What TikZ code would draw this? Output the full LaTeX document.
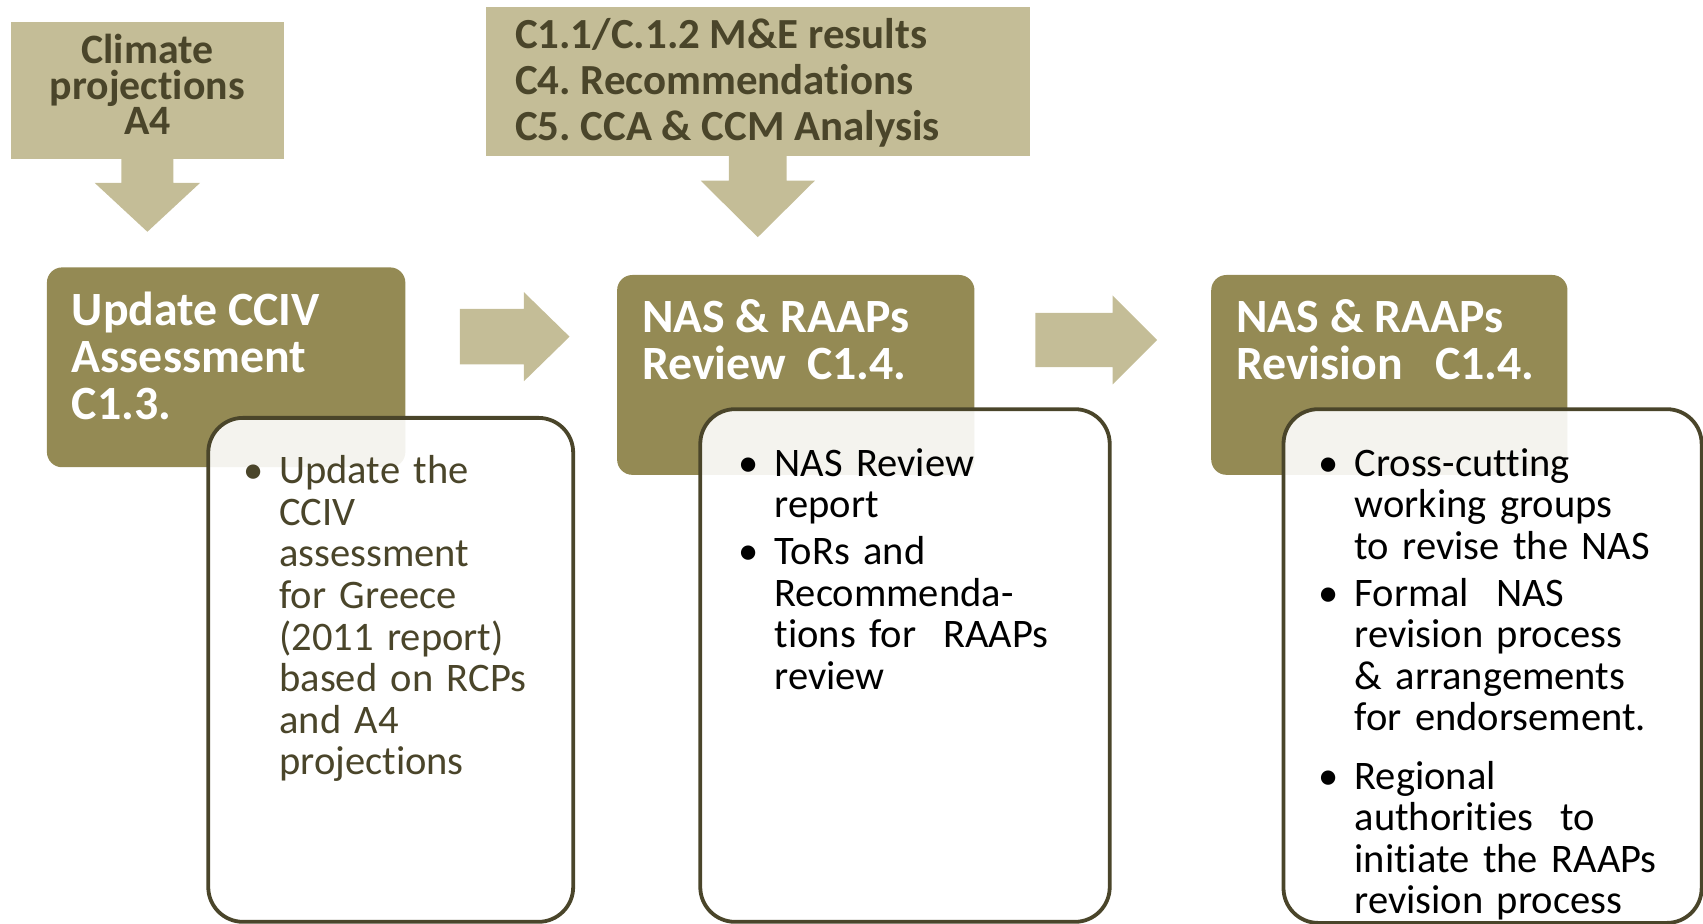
\documentclass[tikz,border=0pt]{standalone}
\usepackage{fontspec}
\setmainfont{Carlito}[Ligatures=NoCommon]
\usetikzlibrary{calc,positioning}
\definecolor{tan}{HTML}{C4BD97}
\definecolor{olive}{HTML}{948A54}
\definecolor{ink}{HTML}{4A452A}
\frenchspacing
% one bullet with hanging lines, optional gap before it
\newcommand{\bitem}[2][0pt]{\par\vspace{#1}\noindent\makebox[33pt][l]{\textbullet}%
  \begin{tabular}[t]{@{}l@{}}#2\end{tabular}\par}
\tikzset{
  srcbox/.style={fill=tan, anchor=north west, inner sep=0pt},
  stage/.style={fill=olive, rounded corners=14pt, anchor=north west, inner sep=0pt},
  card/.style={fill=white, fill opacity=0.9, draw=ink, line width=3.5pt, rounded corners=32pt, anchor=north west, inner sep=0pt},
  blk/.style={fill=tan},
  srctxt/.style={text=ink, font=\bfseries\fontsize{38.5}{32.5}\selectfont, align=center, inner sep=0pt},
  srclist/.style={text=ink, font=\bfseries\fontsize{39.5}{42.5}\selectfont, align=left, anchor=north west, inner sep=0pt},
  stagetxt/.style={text=white, font=\bfseries\fontsize{44}{43}\selectfont, align=left, anchor=north west, inner sep=0pt},
  cardtxt/.style={font=\fontsize{37.3}{38.2}\selectfont, text width=340pt, anchor=north west, inner sep=0pt},
}
\begin{document}
\begin{tikzpicture}[x=1pt,y=-1pt]
  \useasboundingbox (0,0) rectangle (1568,850);
  % inputs on top
  \node[srcbox, minimum width=251pt, minimum height=126pt] (clim) at (10,20) {};
  \node[srctxt] (climt) at ($(clim.center)+(0,-5.5)$) {Climate\\projections\\A4};
  \node[srcbox, minimum width=501pt, minimum height=137pt] (inputs) at (447,6) {};
  \node[srclist] (inputst) at ($(inputs.north west)+(27,10.5)$)
    {C1.1/C.1.2 M\&E results\\C4. Recommendations\\C5. CCA \& CCM Analysis};
  \fill[blk] ($(clim.south)+(-24,0)$) -- ++(0,22) -- ++(-24.5,0) -- ++(48.5,45)
    -- ++(48.5,-45) -- ++(-24.5,0) -- ++(0,-22) -- cycle;
  \fill[blk] ($(inputs.south)+(-26.5,0)$) -- ++(0,23) -- ++(-26,0) -- ++(52.5,52)
    -- ++(52.5,-52) -- ++(-26,0) -- ++(0,-23) -- cycle;
  % three stages
  \node[stage, minimum width=330pt, minimum height=184pt] (upd) at (43,246) {};
  \node[stage, minimum width=329pt, minimum height=184pt] (rev) at (568,253) {};
  \node[stage, minimum width=328pt, minimum height=184pt] (revis) at (1115,253) {};
  \fill[blk] ($(upd.north east)+(50,64)$) ++(0,-25.5) -- ++(59,0) -- ++(0,-15.5)
    -- ++(42,41) -- ++(-42,41) -- ++(0,-15.5) -- ++(-59,0) -- cycle;
  \fill[blk] ($(rev.north east)+(56,60)$) ++(0,-25) -- ++(71,0) -- ++(0,-16)
    -- ++(41,41) -- ++(-41,41) -- ++(0,-16) -- ++(-71,0) -- cycle;
  \node[stagetxt] (updt) at ($(upd.north west)+(23,23)$) {Update CCIV\\Assessment\\C1.3.};
  \node[stagetxt] (revt) at ($(rev.north west)+(23,23)$) {NAS \& RAAPs\\Review\ \ C1.4.};
  \node[stagetxt] (revist) at ($(revis.north west)+(23,23)$) {NAS \& RAAPs\\Revision\ \ \ C1.4.};
  % detail cards
  \node[card, minimum width=336pt, minimum height=464pt] (updc) at (190,383) {};
  \node[card, minimum width=377pt, minimum height=472pt] (revc) at (643,375) {};
  \node[card, minimum width=385pt, minimum height=473pt] (revisc) at (1180,375) {};
  \node[cardtxt, text=ink] (updct) at ($(updc.north west)+(34,24)$)
    {\bitem{Update the\\CCIV\\assessment\\for Greece\\(2011 report)\\based on RCPs\\and A4\\projections}};
  \node[cardtxt, text=black] (revct) at ($(revc.north west)+(37,25)$)
    {\bitem{NAS Review\\report}\bitem[4pt]{ToRs and\\Recommenda-\\tions for\ \ RAAPs\\review}};
  \node[cardtxt, text=black] (revisct) at ($(revisc.north west)+(34,25)$)
    {\bitem{Cross-cutting\\working groups\\to revise the NAS}%
     \bitem[4pt]{Formal\ \ NAS\\revision process\\\& arrangements\\for endorsement.}%
     \bitem[15pt]{Regional\\authorities\ \ to\\initiate the RAAPs\\revision process}};
\end{tikzpicture}
\end{document}
